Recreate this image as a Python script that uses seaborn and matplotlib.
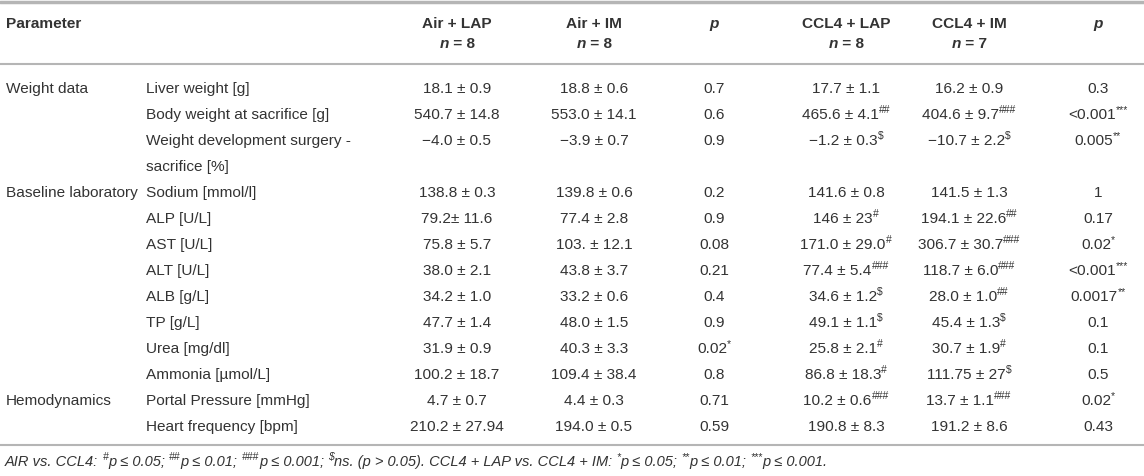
import matplotlib
matplotlib.use("Agg")
import matplotlib.pyplot as plt
import seaborn as sns

# ---------------- data ----------------
col_groups = ["Air + LAP", "Air + IM", "p", "CCL4 + LAP", "CCL4 + IM", "p"]
col_n = ["8", "8", None, "8", "7", None]

group_names = ["Weight data", "Baseline laboratory", "Hemodynamics"]
group_start = [0, 3, 11]

params = ["Liver weight [g]", "Body weight at sacrifice [g]",
          "Weight development surgery -\nsacrifice [%]",
          "Sodium [mmol/l]", "ALP [U/L]", "AST [U/L]", "ALT [U/L]", "ALB [g/L]",
          "TP [g/L]", "Urea [mg/dl]", "Ammonia [\u00b5mol/L]",
          "Portal Pressure [mmHg]", "Heart frequency [bpm]"]

air_lap = ["18.1 \u00b1 0.9", "540.7 \u00b1 14.8", "\u22124.0 \u00b1 0.5", "138.8 \u00b1 0.3",
           "79.2\u00b1 11.6", "75.8 \u00b1 5.7", "38.0 \u00b1 2.1", "34.2 \u00b1 1.0",
           "47.7 \u00b1 1.4", "31.9 \u00b1 0.9", "100.2 \u00b1 18.7", "4.7 \u00b1 0.7",
           "210.2 \u00b1 27.94"]
air_im = ["18.8 \u00b1 0.6", "553.0 \u00b1 14.1", "\u22123.9 \u00b1 0.7", "139.8 \u00b1 0.6",
          "77.4 \u00b1 2.8", "103. \u00b1 12.1", "43.8 \u00b1 3.7", "33.2 \u00b1 0.6",
          "48.0 \u00b1 1.5", "40.3 \u00b1 3.3", "109.4 \u00b1 38.4", "4.4 \u00b1 0.3",
          "194.0 \u00b1 0.5"]
p_air = ["0.7", "0.6", "0.9", "0.2", "0.9", "0.08", "0.21", "0.4", "0.9", "0.02", "0.8",
         "0.71", "0.59"]
p_air_sig = ["", "", "", "", "", "", "", "", "", "*", "", "", ""]
ccl4_lap = ["17.7 \u00b1 1.1", "465.6 \u00b1 4.1", "\u22121.2 \u00b1 0.3", "141.6 \u00b1 0.8",
            "146 \u00b1 23", "171.0 \u00b1 29.0", "77.4 \u00b1 5.4", "34.6 \u00b1 1.2",
            "49.1 \u00b1 1.1", "25.8 \u00b1 2.1", "86.8 \u00b1 18.3", "10.2 \u00b1 0.6",
            "190.8 \u00b1 8.3"]
ccl4_lap_sig = ["", "##", "$", "", "#", "#", "###", "$", "$", "#", "#", "###", ""]
ccl4_im = ["16.2 \u00b1 0.9", "404.6 \u00b1 9.7", "\u221210.7 \u00b1 2.2", "141.5 \u00b1 1.3",
           "194.1 \u00b1 22.6", "306.7 \u00b1 30.7", "118.7 \u00b1 6.0", "28.0 \u00b1 1.0",
           "45.4 \u00b1 1.3", "30.7 \u00b1 1.9", "111.75 \u00b1 27", "13.7 \u00b1 1.1",
           "191.2 \u00b1 8.6"]
ccl4_im_sig = ["", "###", "$", "", "##", "###", "###", "##", "$", "#", "$", "###", ""]
p_ccl4 = ["0.3", "<0.001", "0.005", "1", "0.17", "0.02", "<0.001", "0.0017", "0.1", "0.1",
          "0.5", "0.02", "0.43"]
p_ccl4_sig = ["", "***", "**", "", "", "*", "***", "**", "", "", "", "*", ""]

footnote = [("AIR vs. CCL4: ", False), ("#", True), ("p \u2264 0.05; ", False), ("##", True),
            ("p \u2264 0.01; ", False), ("###", True), ("p \u2264 0.001; ", False), ("$", True),
            ("ns. (p > 0.05). CCL4 + LAP vs. CCL4 + IM: ", False), ("*", True),
            ("p \u2264 0.05; ", False), ("**", True), ("p \u2264 0.01; ", False), ("***", True),
            ("p \u2264 0.001.", False)]

# ---------------- style ----------------
sns.set_theme(style="white")
plt.rcParams["font.family"] = ["Liberation Sans", "DejaVu Sans"]
TXT = "#333333"
LINE = "#b5b5b5"
FS = 11.1
SUP = 7.5

W, H = 1144, 477
fig = plt.figure(figsize=(W / 100, H / 100), dpi=100)
ax = fig.add_axes([0, 0, 1, 1])
ax.set_xlim(0, W)
ax.set_ylim(H, 0)
ax.axis("off")
renderer = fig.canvas.get_renderer()

col_x = [457, 594, 714, 846, 969, 1098]
x_par = 6
x_sub = 146
y_h1, y_h2 = 24, 44
row_y0, row_dy = 89, 26


def width(s, **kw):
    t1 = ax.text(0, 0, s + "|", **kw)
    t2 = ax.text(0, 0, "|", **kw)
    w = t1.get_window_extent(renderer).width - t2.get_window_extent(renderer).width
    t1.remove()
    t2.remove()
    return w


def runs(x, y, parts, ha="center", size=FS, style="normal", weight="normal"):
    items = []
    for s, sup in parts:
        if not s:
            continue
        kw = dict(fontsize=SUP if sup else size, fontstyle=style, fontweight=weight, color=TXT)
        items.append((s, sup, kw, width(s, **kw)))
    total = sum(i[3] for i in items)
    cx = x - total / 2 if ha == "center" else x
    for s, sup, kw, w in items:
        ax.text(cx, y - (5 if sup else 0), s, ha="left", va="center", **kw)
        cx += w


# rules
ax.axhline(3, color=LINE, lw=2.5)
ax.axhline(65, color=LINE, lw=1.5)
ax.axhline(446, color=LINE, lw=1.5)

# header
ax.text(x_par, y_h1, "Parameter", ha="left", va="center", fontsize=FS, fontweight="bold", color=TXT)
for cx, name, n in zip(col_x, col_groups, col_n):
    if name == "p":
        ax.text(cx, y_h1, "p", ha="center", va="center", fontsize=FS, fontweight="bold",
                fontstyle="italic", color=TXT)
    else:
        ax.text(cx, y_h1, name, ha="center", va="center", fontsize=FS, fontweight="bold", color=TXT)
        wn = width("n", fontsize=FS, fontweight="bold", fontstyle="italic")
        wr = width(" = " + n, fontsize=FS, fontweight="bold")
        sx = cx - (wn + wr) / 2
        ax.text(sx, y_h2, "n", ha="left", va="center", fontsize=FS, fontweight="bold",
                fontstyle="italic", color=TXT)
        ax.text(sx + wn, y_h2, " = " + n, ha="left", va="center", fontsize=FS,
                fontweight="bold", color=TXT)

# body
row_ys = []
y = row_y0
for i, prm in enumerate(params):
    row_ys.append(y)
    y += row_dy * (prm.count("\n") + 1)

for g, s in zip(group_names, group_start):
    ax.text(x_par, row_ys[s], g, ha="left", va="center", fontsize=FS, color=TXT)

for i, prm in enumerate(params):
    yy = row_ys[i]
    for j, line in enumerate(prm.split("\n")):
        ax.text(x_sub, yy + j * row_dy, line, ha="left", va="center", fontsize=FS, color=TXT)
    runs(col_x[0], yy, [(air_lap[i], False)])
    runs(col_x[1], yy, [(air_im[i], False)])
    runs(col_x[2], yy, [(p_air[i], False), (p_air_sig[i], True)])
    runs(col_x[3], yy, [(ccl4_lap[i], False), (ccl4_lap_sig[i], True)])
    runs(col_x[4], yy, [(ccl4_im[i], False), (ccl4_im_sig[i], True)])
    runs(col_x[5], yy, [(p_ccl4[i], False), (p_ccl4_sig[i], True)])

# footnote
runs(5, 462, footnote, ha="left", size=10.5, style="italic")

fig.savefig("out.png", dpi=100)
